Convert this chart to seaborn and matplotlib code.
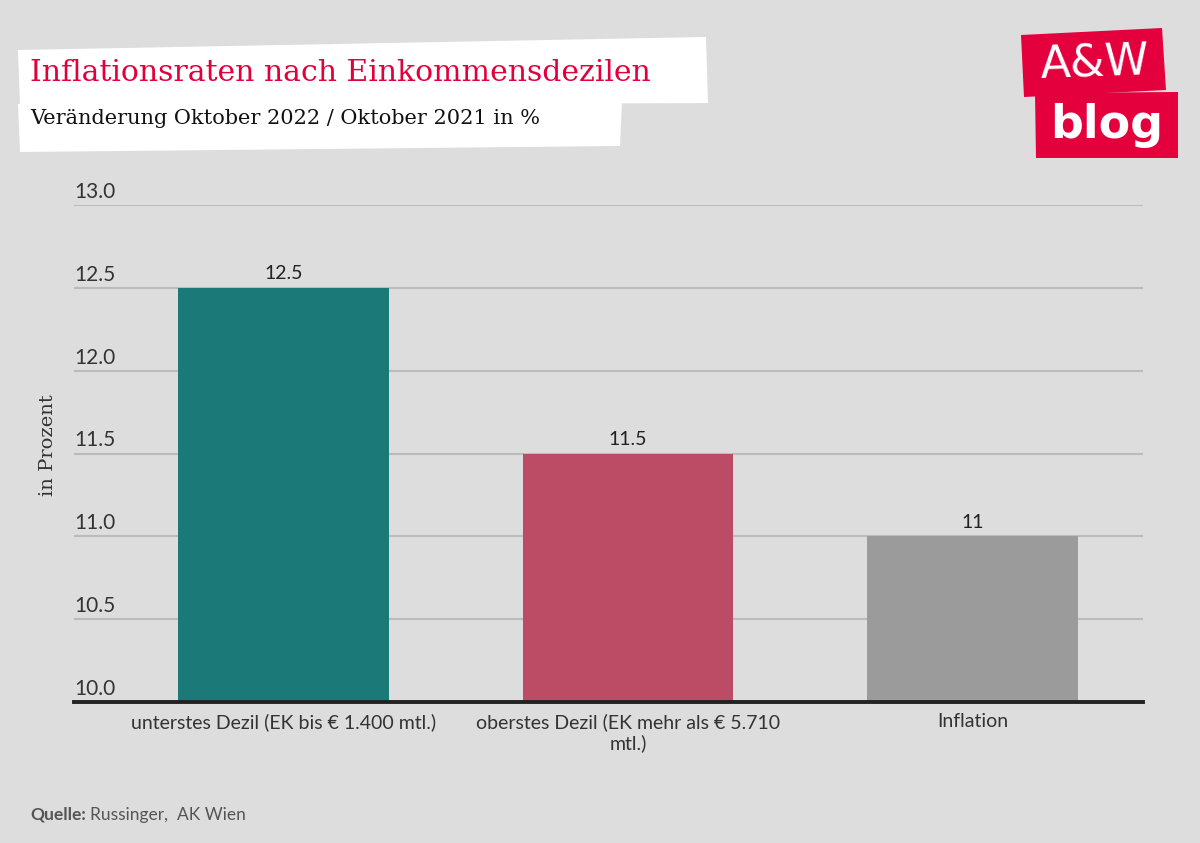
import matplotlib
matplotlib.use("Agg")
import matplotlib.pyplot as plt
import matplotlib.transforms as mtransforms
from matplotlib.patches import Polygon
from matplotlib import font_manager
import seaborn as sns
import pandas as pd

categories = ["unterstes Dezil (EK bis € 1.400 mtl.)",
              "oberstes Dezil (EK mehr als € 5.710\nmtl.)",
              "Inflation"]
values = [12.5, 11.5, 11.0]
value_labels = ["12.5", "11.5", "11"]
colors = ["#1b7a78", "#bc4b65", "#9b9b9b"]
yticks = [10.0, 10.5, 11.0, 11.5, 12.0, 12.5, 13.0]
ytick_labels = ["10.0", "10.5", "11.0", "11.5", "12.0", "12.5", "13.0"]

sns.set_theme(style="white")
avail = {f.name for f in font_manager.fontManager.ttflist}
cond = "Liberation Sans Narrow" if "Liberation Sans Narrow" in avail else "Lato"
plt.rcParams["font.family"] = [cond, "DejaVu Sans"]

BG = "#dddddd"
fig = plt.figure(figsize=(12, 8.43), dpi=100, facecolor=BG)
ax = fig.add_axes([74/1200, 1-702/843, (1143-74)/1200, (702-205)/843])
ax.set_facecolor(BG)

df = pd.DataFrame({"cat": categories, "val": values})
sns.barplot(data=df, x="cat", y="val", hue="cat", palette=colors, legend=False,
            width=0.612, ax=ax, saturation=1, zorder=3, linewidth=0, edgecolor="none")

ax.set_ylim(10.0, 13.0)
ax.set_xlim(-0.608, 2.495)
ax.set_yticks(yticks)
ax.set_yticklabels([])
ax.tick_params(axis="y", length=0)
ax.tick_params(axis="x", length=0, pad=8, labelsize=14, labelcolor="#333333")
ax.yaxis.grid(True, color="#bbbbbb", linewidth=1.5, zorder=0)
ax.set_axisbelow(True)
for s in ["top", "right", "left"]:
    ax.spines[s].set_visible(False)
ax.spines["bottom"].set_color("#222222")
ax.spines["bottom"].set_linewidth(2.8)
ax.spines["bottom"].set_zorder(5)
ax.set_xlabel("")
ax.set_ylabel("")

trans = mtransforms.blended_transform_factory(ax.transAxes, ax.transData)
trans = mtransforms.offset_copy(trans, fig=fig, x=0, y=3, units="dots")
for t, lab in zip(yticks, ytick_labels):
    ax.text(0.0, t, lab, transform=trans, ha="left", va="bottom",
            fontsize=15, color="#333333")

for i, (v, lab) in enumerate(zip(values, value_labels)):
    ax.text(i, v + 0.035, lab, ha="center", va="bottom", fontsize=14, color="#222222")

fig.text(48/1200, 1-445/843, "in Prozent", rotation=90, ha="center", va="center",
         fontsize=14, color="#333333", family=["DejaVu Serif"])

# banners
def fpoly(pts, color, z=0):
    p = Polygon([(x/1200, 1-y/843) for x, y in pts], closed=True,
                transform=fig.transFigure, facecolor=color, edgecolor="none", zorder=z)
    fig.patches.append(p)

fpoly([(18, 50), (706, 37), (708, 103), (20, 106)], "white")
fpoly([(18, 104), (622, 100), (620, 146), (20, 152)], "white")
fig.text(30/1200, 1-73/843, "Inflationsraten nach Einkommensdezilen", ha="left", va="center",
         fontsize=21.5, color="#e2003c", family=["DejaVu Serif"])
fig.text(30/1200, 1-119/843, "Veränderung Oktober 2022 / Oktober 2021 in %", ha="left", va="center",
         fontsize=15, color="#111111", family=["DejaVu Serif"])

# logo
fpoly([(1021, 35), (1162, 28), (1166, 90), (1024, 97)], "#e3003d")
fpoly([(1035, 93), (1178, 92), (1178, 158), (1036, 158)], "#e3003d")
fig.text(1095/1200, 1-64/843, "A&W", ha="center", va="center", fontsize=32, color="white",
         family=["DejaVu Sans"], rotation=2)
fig.text(1107/1200, 1-126/843, "blog", ha="center", va="center", fontsize=33, color="white",
         fontweight="bold", family=["DejaVu Sans"])

# source
q = fig.text(30/1200, 1-815/843, "Quelle:", ha="left", va="center", fontsize=12.5,
             color="#555555", fontweight="bold")
fig.canvas.draw()
bb = q.get_window_extent()
fig.text((bb.x1 + 4)/1200, 1-815/843, "Russinger,  AK Wien", ha="left", va="center",
         fontsize=12.5, color="#555555")

fig.savefig("out.png", dpi=100, facecolor=BG)
